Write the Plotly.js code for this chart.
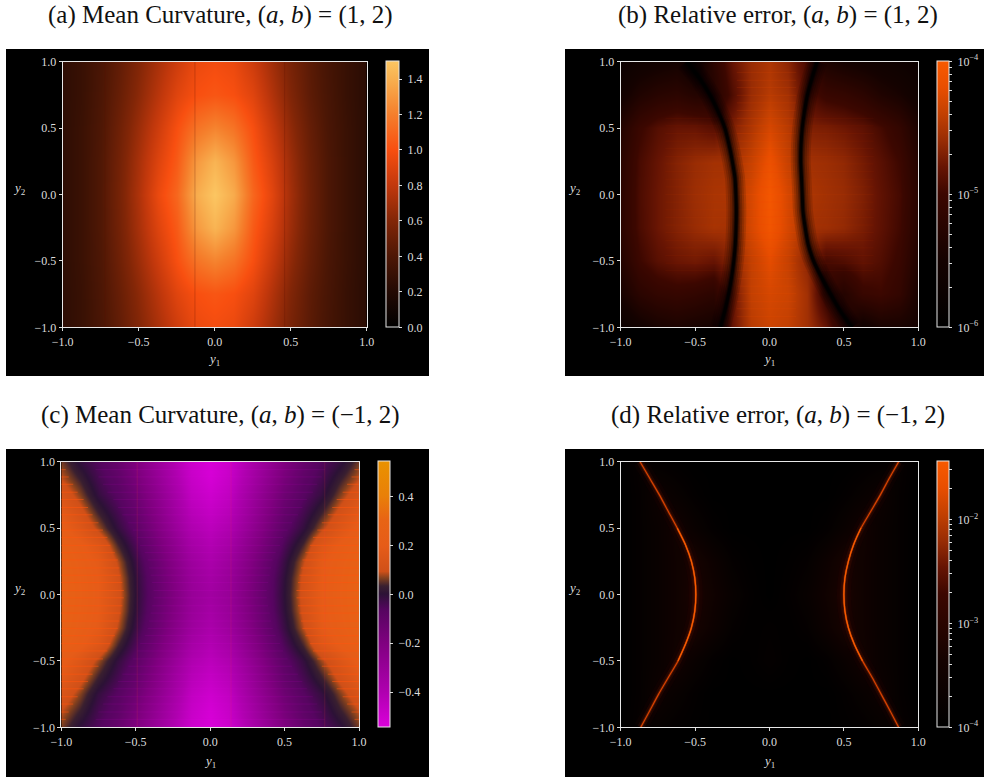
<!DOCTYPE html>
<html><head><meta charset="utf-8">
<script src="https://cdn.plot.ly/plotly-3.0.1.min.js"></script>
<style>html,body{margin:0;padding:0;background:#fff}#c{width:984px;height:777px}</style></head>
<body><div id="c"></div>
<script>
// ---------- data ----------
const y1Grid = [-1,-0.875,-0.75,-0.625,-0.5,-0.375,-0.25,-0.125,0,0.125,0.25,0.375,0.5,0.625,0.75,0.875,1];
const y2Grid = [-1,-0.75,-0.5,-0.25,0,0.25,0.5,0.75,1];
const y2Fine = [-1,-0.875,-0.75,-0.625,-0.5,-0.375,-0.25,-0.125,0,0.125,0.25,0.375,0.5,0.625,0.75,0.875,1];

const curvatureA = [
 [.25,.30,.38,.48,.60,.72,.84,.95,.98,.95,.84,.70,.56,.45,.36,.29,.23],
 [.25,.30,.39,.50,.63,.77,.91,1.0,1.03,1.0,.91,.75,.59,.46,.37,.29,.23],
 [.25,.31,.40,.53,.68,.84,1.0,1.15,1.22,1.15,1.0,.82,.64,.49,.38,.30,.23],
 [.25,.31,.41,.55,.72,.90,1.05,1.3,1.42,1.3,1.05,.88,.68,.51,.39,.30,.23],
 [.25,.31,.41,.56,.74,.95,1.1,1.38,1.5,1.38,1.1,.92,.70,.52,.39,.30,.23],
 [.25,.31,.41,.55,.72,.90,1.05,1.3,1.42,1.3,1.05,.88,.68,.51,.39,.30,.23],
 [.25,.31,.40,.53,.68,.84,1.0,1.15,1.22,1.15,1.0,.82,.64,.49,.38,.30,.23],
 [.25,.30,.39,.50,.63,.77,.91,1.0,1.03,1.0,.91,.75,.59,.46,.37,.29,.23],
 [.25,.30,.38,.48,.60,.72,.84,.95,.98,.95,.84,.70,.56,.45,.36,.29,.23]];
const seamXA = [-0.72,-0.13,0.46];

const logErrorB = [
 [-5.7,-5.55,-5.45,-5.4,-5.45,-5.5,-4.8,-4.45,-4.35,-4.4,-4.55,-4.8,-5.3,-5.6,-5.45,-5.45,-5.5],
 [-5.45,-5.22,-5.12,-5.08,-5.12,-5.2,-4.8,-4.4,-4.3,-4.35,-4.55,-5.1,-5.3,-5.05,-5,-5.12,-5.45],
 [-5.3,-5.0,-4.86,-4.78,-4.75,-4.8,-4.65,-4.4,-4.22,-4.38,-4.65,-4.95,-4.9,-4.82,-4.9,-5.04,-5.35],
 [-5.2,-4.93,-4.78,-4.68,-4.6,-4.53,-4.55,-4.3,-4.08,-4.3,-4.55,-4.57,-4.62,-4.72,-4.84,-4.98,-5.28],
 [-5.2,-4.92,-4.78,-4.68,-4.58,-4.52,-4.5,-4.3,-4.05,-4.3,-4.5,-4.55,-4.6,-4.7,-4.83,-4.96,-5.25],
 [-5.22,-4.94,-4.8,-4.68,-4.6,-4.55,-4.55,-4.38,-4.15,-4.38,-4.55,-4.58,-4.63,-4.74,-4.86,-5.0,-5.3],
 [-5.3,-5.02,-4.88,-4.8,-4.8,-4.87,-4.7,-4.5,-4.3,-4.45,-4.7,-4.72,-4.77,-4.84,-4.96,-5.12,-5.4],
 [-5.55,-5.35,-5.25,-5.2,-5.3,-5.3,-4.9,-4.6,-4.45,-4.55,-4.9,-5.05,-5.1,-5.2,-5.35,-5.45,-5.6],
 [-5.7,-5.6,-5.55,-5.5,-5.7,-5.2,-4.8,-4.6,-4.5,-4.65,-4.95,-5.4,-5.5,-5.55,-5.6,-5.65,-5.7]];
const troughBLeftX  = [-0.33,-0.30,-0.275,-0.255,-0.24,-0.23,-0.225,-0.223,-0.226,-0.232,-0.25,-0.272,-0.30,-0.345,-0.40,-0.47,-0.556];
const troughBRightX = [0.554,0.475,0.41,0.35,0.296,0.26,0.24,0.225,0.22,0.215,0.21,0.212,0.22,0.235,0.255,0.285,0.32];
const seamYB = [0.92,0.86,0.805,0.747,0.69,0.632,0.574,0.517,0.46,0.402,0.345,0.287,0.23,0.172,0.115,0.057,0,-0.057,-0.115,-0.172,-0.23,-0.287,-0.345,-0.402,-0.46,-0.517,-0.574,-0.632,-0.69,-0.747,-0.805,-0.86,-0.92];

const curvatureC = [
 [.06,-.012,-.06,-.12,-.20,-.30,-.40,-.50,-.54,-.50,-.40,-.30,-.20,-.12,-.06,-.012,.06],
 [.09,.03,-.04,-.09,-.17,-.27,-.38,-.48,-.525,-.48,-.38,-.27,-.17,-.09,-.04,.03,.09],
 [.135,.065,-.015,-.07,-.14,-.24,-.35,-.46,-.50,-.46,-.35,-.24,-.14,-.07,-.015,.065,.135],
 [.18,.11,.03,-.04,-.11,-.21,-.325,-.43,-.47,-.43,-.325,-.21,-.11,-.04,.03,.11,.18],
 [.215,.15,.075,-.012,-.085,-.185,-.295,-.40,-.44,-.40,-.295,-.185,-.085,-.012,.075,.15,.215],
 [.246,.209,.153,.04,-.05,-.15,-.255,-.36,-.41,-.36,-.255,-.15,-.05,.04,.153,.209,.246],
 [.261,.224,.186,.086,-.02,-.12,-.225,-.325,-.38,-.325,-.225,-.12,-.02,.086,.186,.224,.261],
 [.268,.23,.193,.106,-.005,-.105,-.205,-.305,-.355,-.305,-.205,-.105,-.005,.106,.193,.23,.268],
 [.27,.233,.195,.113,0,-.10,-.20,-.30,-.34,-.30,-.20,-.10,0,.113,.195,.233,.27],
 [.268,.23,.193,.106,-.005,-.105,-.205,-.305,-.355,-.305,-.205,-.105,-.005,.106,.193,.23,.268],
 [.261,.224,.186,.086,-.02,-.12,-.225,-.325,-.38,-.325,-.225,-.12,-.02,.086,.186,.224,.261],
 [.246,.209,.153,.04,-.05,-.15,-.255,-.36,-.41,-.36,-.255,-.15,-.05,.04,.153,.209,.246],
 [.215,.15,.075,-.012,-.085,-.185,-.295,-.40,-.44,-.40,-.295,-.185,-.085,-.012,.075,.15,.215],
 [.18,.11,.03,-.04,-.11,-.21,-.325,-.43,-.47,-.43,-.325,-.21,-.11,-.04,.03,.11,.18],
 [.135,.065,-.015,-.07,-.14,-.24,-.35,-.46,-.50,-.46,-.35,-.24,-.14,-.07,-.015,.065,.135],
 [.09,.03,-.04,-.09,-.17,-.27,-.38,-.48,-.525,-.48,-.38,-.27,-.17,-.09,-.04,.03,.09],
 [.06,-.012,-.06,-.12,-.20,-.30,-.40,-.50,-.54,-.50,-.40,-.30,-.20,-.12,-.06,-.012,.06]];
const seamYC = [0.94,0.885,0.83,0.77,0.715,0.655,0.6,0.54,0.485,0.43,0.37,0.315,0.26,0.2,0.145,0.09,0.03,-0.025,-0.085,-0.14,-0.2,-0.255,-0.31,-0.37,-0.425,-0.485,-0.54,-0.6,-0.655,-0.71,-0.77,-0.825,-0.885,-0.94];
const seamEdgeC = [0.9,0.88,0.85,0.82,0.78,0.75,0.72,0.68,0.65,0.62,0.6,0.57,0.55,0.54,0.53,0.52,0.51,0.51,0.52,0.53,0.54,0.55,0.57,0.6,0.62,0.65,0.68,0.72,0.75,0.78,0.82,0.85,0.88,0.9];
const seamXC = [-0.49,0.14,0.77];

const logErrorD = [
 [-4,-3.8,-3.8,-3.9,-3.95,-4,-4,-4,-4,-4,-4,-4,-3.95,-3.9,-3.8,-3.8,-3.95],
 [-4,-3.85,-3.6,-3.75,-3.9,-4,-4,-4,-4,-4,-4,-4,-3.9,-3.75,-3.6,-3.85,-4],
 [-4,-3.85,-3.7,-3.45,-3.7,-3.9,-4,-3.95,-3.85,-3.95,-4,-3.9,-3.7,-3.45,-3.7,-3.85,-4],
 [-4,-3.85,-3.7,-3.5,-3.3,-3.6,-3.85,-3.95,-3.9,-3.95,-3.85,-3.6,-3.3,-3.5,-3.7,-3.85,-4],
 [-4,-3.85,-3.7,-3.5,-3.2,-3.5,-3.75,-3.9,-4,-3.9,-3.75,-3.5,-3.2,-3.5,-3.7,-3.85,-4],
 [-4,-3.85,-3.7,-3.5,-3.3,-3.6,-3.85,-3.95,-4,-3.95,-3.85,-3.6,-3.3,-3.5,-3.7,-3.85,-4],
 [-4,-3.85,-3.7,-3.45,-3.7,-3.9,-4,-4,-4,-4,-4,-3.9,-3.7,-3.45,-3.7,-3.85,-4],
 [-4,-3.85,-3.6,-3.75,-3.9,-4,-4,-4,-4,-4,-4,-4,-3.9,-3.75,-3.6,-3.85,-4],
 [-4,-3.8,-3.9,-3.95,-4,-4,-4,-4,-4,-4,-4,-4,-4,-3.95,-3.9,-3.8,-4]];
const ridgeDLeftX  = [-0.865,-0.805,-0.745,-0.68,-0.615,-0.565,-0.525,-0.502,-0.495,-0.502,-0.525,-0.565,-0.62,-0.68,-0.74,-0.805,-0.87];
const ridgeDRightX = [0.868,0.81,0.75,0.69,0.625,0.57,0.53,0.507,0.5,0.507,0.53,0.565,0.615,0.68,0.745,0.805,0.868];

const linearTicksA = [0,0.2,0.4,0.6,0.8,1.0,1.2,1.4];
const linearTicksC = [-0.4,-0.2,0,0.2,0.4];
const logTicksB = [-6,-5.699,-5.523,-5.398,-5.301,-5.222,-5.155,-5.097,-5.046,-5,-4.699,-4.523,-4.398,-4.301,-4.222,-4.155,-4.097,-4.046,-4];
const logLabelsB = ['\u00a010<sup>−6</sup>','','','','','','','','','\u00a010<sup>−5</sup>','','','','','','','','','\u00a010<sup>−4</sup>'];
const logTicksD = [-4,-3.699,-3.523,-3.398,-3.301,-3.222,-3.155,-3.097,-3.046,-3,-2.699,-2.523,-2.398,-2.301,-2.222,-2.155,-2.097,-2.046,-2,-1.699,-1.523];
const logLabelsD = ['\u00a010<sup>−4</sup>','','','','','','','','','\u00a010<sup>−3</sup>','','','','','','','','','\u00a010<sup>−2</sup>','',''];
const axisTicks = [-1,-0.5,0,0.5,1];
const titles = ['(a) Mean Curvature, (<i>a</i>, <i>b</i>)\u00a0=\u00a0(1, 2)','(b) Relative error, (<i>a</i>, <i>b</i>)\u00a0=\u00a0(1, 2)','(c) Mean Curvature, (<i>a</i>, <i>b</i>)\u00a0=\u00a0(−1, 2)','(d) Relative error, (<i>a</i>, <i>b</i>)\u00a0=\u00a0(−1, 2)'];

// ---------- styles and layout ----------
const W=984,H=777,SERIF='"Liberation Serif",serif',TICK='#dcdcdc';
const scaleA=[[0,'#000000'],[.133,'#230a03'],[.267,'#4e1705'],[.4,'#822607'],[.533,'#c2380c'],[.667,'#f84f10'],[.8,'#f57f2c'],[.933,'#f8b050'],[1,'#fcc662']];
const scaleB=[[0,'#000000'],[.25,'#140200'],[.5,'#3c0700'],[.6,'#661403'],[.7,'#982c04'],[.8,'#c24002'],[.9,'#e84e00'],[1,'#f85a00']];
const scaleC=[[0,'#da00da'],[.13,'#b000b0'],[.315,'#800080'],[.44,'#560560'],[.5,'#2c1236'],[.53,'#3a2030'],[.56,'#82401e'],[.585,'#d05018'],[.68,'#e65c18'],[.78,'#e86414'],[.87,'#e98008'],[1,'#ea9200']];
const P=[
 {x:[62.7,366.7],y:[61.7,327.3],cb:[385.5,398.5],bg:[6,49,429,376],tx:220,ty:15,lx:19,ax:'x',ay:'y',xl:214,xly:360},
 {x:[620.7,918.3],y:[61.7,327.3],cb:[937.3,949.3],bg:[565,49,984,376],tx:778,ty:15,lx:574,ax:'x2',ay:'y2',xl:769,xly:360},
 {x:[61.3,359],y:[461.7,727.3],cb:[377.7,389.3],bg:[6,449,429,777],tx:220,ty:415,lx:19,ax:'x3',ay:'y3',xl:210,xly:761},
 {x:[620.7,918.3],y:[461.7,727.3],cb:[937.3,949.3],bg:[565,449,984,777],tx:778,ty:415,lx:574,ax:'x4',ay:'y4',xl:769,xly:761}];

function cbar(p,ext){return Object.assign({x:p.cb[0]/W,xanchor:'left',xpad:0,ypad:0,y:1-p.y[1]/H,yanchor:'bottom',
  len:(p.y[1]-p.y[0])/H,lenmode:'fraction',thickness:p.cb[1]-p.cb[0],thicknessmode:'pixels',
  outlinecolor:'#e6e6e6',outlinewidth:1,ticks:'outside',ticklen:3,tickcolor:'#dcdcdc',tickwidth:1,
  tickfont:{family:SERIF,size:12,color:TICK},tickmode:'array'},ext);}
function heat(z,ys,p,scale,zmin,zmax,ext){return {type:'heatmap',x:y1Grid,y:ys,z:z,xaxis:p.ax,yaxis:p.ay,zsmooth:'best',
  colorscale:scale,zmin:zmin,zmax:zmax,hoverinfo:'skip',colorbar:cbar(p,ext)};}
function line(x,y,p,color,width,spline){return {type:'scatter',mode:'lines',x:x,y:y,xaxis:p.ax,yaxis:p.ay,hoverinfo:'skip',showlegend:false,
  connectgaps:false,line:{color:color,width:width,shape:spline?'spline':'linear',smoothing:0.6}};}
function vSeams(xs){const a=[],b=[];xs.forEach(v=>{a.push(v,v,null);b.push(-1,1,null);});return [a,b];}

const traces=[];
traces.push(heat(curvatureA,y2Grid,P[0],scaleA,0,1.5,{tickvals:linearTicksA,ticktext:linearTicksA.map(v=>'\u00a0'+v.toFixed(1))}));
let s=vSeams(seamXA); traces.push(line(s[0],s[1],P[0],'rgba(90,15,0,0.25)',1));

traces.push(heat(logErrorB,y2Grid,P[1],scaleB,-6,-4,{tickvals:logTicksB,ticktext:logLabelsB}));
const sb=[[],[]],sl=[[],[]];
seamYB.forEach(v=>{sb[0].push(-0.22,0.18,null);sb[1].push(v,v,null);
  if(Math.abs(v)<0.6){sl[0].push(-0.7,0.7,null);sl[1].push(v,v,null);}});
traces.push(line(sl[0],sl[1],P[1],'rgba(255,80,0,0.05)',1));
traces.push(line(sb[0],sb[1],P[1],'rgba(255,80,0,0.12)',1));
[[20,'rgba(0,0,0,0.12)'],[16,'rgba(0,0,0,0.14)'],[12,'rgba(0,0,0,0.18)'],[8,'rgba(0,0,0,0.28)'],[5,'rgba(0,0,0,0.5)'],[3,'rgba(0,0,0,0.9)']].forEach(w=>{
  traces.push(line(troughBLeftX,y2Fine,P[1],w[1],w[0],true));
  traces.push(line(troughBRightX,y2Fine,P[1],w[1],w[0],true));});

traces.push(heat(curvatureC,y2Fine,P[2],scaleC,-0.543,0.543,{tickvals:linearTicksC,ticktext:linearTicksC.map(v=>'\u00a0'+v.toFixed(1).replace('-','−'))}));
const so=[[],[]],sm=[[],[]];
seamYC.forEach((v,i)=>{const e=seamEdgeC[i]+0.07;
  so[0].push(-1,-e,null,e,1,null);so[1].push(v,v,null,v,v,null);
  sm[0].push(-e+0.2,e-0.2,null);sm[1].push(v,v,null);});
traces.push(line(so[0],so[1],P[2],'rgba(255,85,15,0.55)',1));
traces.push(line(sm[0],sm[1],P[2],'rgba(225,0,225,0.1)',1));
s=vSeams(seamXC); traces.push(line(s[0],s[1],P[2],'rgba(255,70,60,0.14)',1));

traces.push(heat(logErrorD,y2Grid,P[3],scaleB,-4,-1.44,{tickvals:logTicksD,ticktext:logLabelsD}));
[[14,'rgba(80,15,0,0.08)'],[7,'rgba(140,35,0,0.14)'],[3,'rgba(190,55,0,0.3)'],[1.2,'rgba(230,72,0,0.9)']].forEach(w=>{
  traces.push(line(ridgeDLeftX,y2Fine,P[3],w[1],w[0],true));
  traces.push(line(ridgeDRightX,y2Fine,P[3],w[1],w[0],true));});
traces.push(line(ridgeDLeftX.slice(4,13),y2Fine.slice(4,13),P[3],'rgba(250,95,0,0.9)',1.3,true));
traces.push(line(ridgeDRightX.slice(4,13),y2Fine.slice(4,13),P[3],'rgba(250,95,0,0.9)',1.3,true));

const layout={width:W,height:H,margin:{l:0,r:0,t:0,b:0},paper_bgcolor:'#ffffff',plot_bgcolor:'#000000',showlegend:false,shapes:[],annotations:[]};
P.forEach((p,i)=>{
  const n=i?String(i+1):'';
  const ax={range:[-1,1],tickmode:'array',tickvals:axisTicks,tickformat:'.1f',ticks:'outside',ticklen:3,tickwidth:1,tickcolor:'#dcdcdc',
    showgrid:false,zeroline:false,showline:true,mirror:true,linecolor:'#e8e8e8',linewidth:1,tickfont:{family:SERIF,size:12,color:TICK},fixedrange:true,automargin:false};
  layout['xaxis'+n]=Object.assign({},ax,{domain:[p.x[0]/W,p.x[1]/W],anchor:'y'+n});
  layout['yaxis'+n]=Object.assign({},ax,{domain:[1-p.y[1]/H,1-p.y[0]/H],anchor:'x'+n});
  layout.shapes.push({type:'rect',xref:'paper',yref:'paper',layer:'below',x0:p.bg[0]/W,x1:p.bg[2]/W,y0:1-p.bg[3]/H,y1:1-p.bg[1]/H,fillcolor:'#000',line:{width:0}});
  const note=(t,x,y,size,col)=>layout.annotations.push({text:t,xref:'paper',yref:'paper',x:x/W,y:1-y/H,xanchor:'center',yanchor:'middle',showarrow:false,font:{family:SERIF,size:size,color:col}});
  note(titles[i],p.tx,p.ty,25,'#111111');
  note('<i>y</i><sub>2</sub>',p.lx,(p.y[0]+p.y[1])/2-6,13,TICK);
  note('<i>y</i><sub>1</sub>',p.xl,p.xly,13,TICK);
});
Plotly.newPlot('c',traces,layout,{staticPlot:true,displayModeBar:false});
</script></body></html>
